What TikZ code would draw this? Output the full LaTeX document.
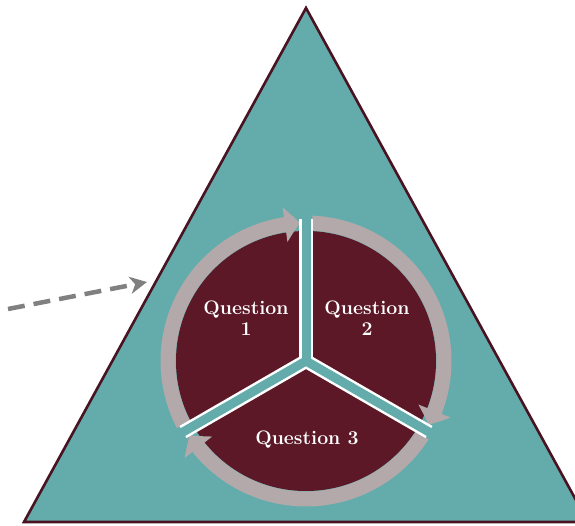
\documentclass[tikz,border=0pt]{standalone}
\usetikzlibrary{arrows.meta,bending}
\definecolor{tealbg}{HTML}{63ACAB}
\definecolor{maroonfill}{HTML}{5C1826}
\definecolor{ringgray}{HTML}{B3A8AA}
\definecolor{edgemaroon}{HTML}{4A1322}
\definecolor{dashgray}{HTML}{808080}
\tikzset{
  ringarrow/.style={draw=ringgray,line width=15pt,-{Triangle[length=15pt,width=34pt,bend]}},
  whiteband/.style={draw=white,line width=14pt},
  tealband/.style={draw=tealbg,line width=9pt},
  qlabel/.style={text=white,font=\fontsize{19.5}{21}\selectfont\bfseries,align=center,inner sep=0pt},
  pointer/.style={draw=dashgray,line width=4.5pt,dash pattern=on 17pt off 9pt,-{Stealth[length=17pt,width=17pt,inset=5pt]}}
}
\begin{document}
\begin{tikzpicture}[x=1pt,y=1pt]
\useasboundingbox (0,0) rectangle (575,525);
\clip (0,0) rectangle (575,525);
% triangle
\coordinate (ttop) at (306,517);
\coordinate (tbl) at (24,3);
\coordinate (tbr) at (588,3);
\draw[fill=tealbg,draw=edgemaroon,line width=2.6pt,line join=miter] (ttop) -- (tbl) -- (tbr) -- cycle;
% disk
\coordinate (c) at (306,164);
\fill[maroonfill] (c) circle[radius=130];
% ring arrows
\draw[ringarrow] (c) ++(207.5:138) arc[start angle=207.5,end angle=92.5,radius=138];
\draw[ringarrow] (c) ++(87.5:138) arc[start angle=87.5,end angle=-27.5,radius=138];
\draw[ringarrow] (c) ++(-32.5:138) arc[start angle=-32.5,end angle=-147.5,radius=138];
% dividers
\draw[whiteband] (c) -- ++(90:142);
\draw[whiteband] (c) -- ++(-30:142);
\draw[whiteband] (c) -- ++(210:142);
\draw[tealband] (c) -- ++(90:150);
\draw[tealband] (c) -- ++(-30:150);
\draw[tealband] (c) -- ++(210:150);
\fill[tealbg] (c) circle[radius=4.5];
% labels
\node[qlabel] (q1) at (246,207) {Question\\1};
\node[qlabel] (q2) at (367,207) {Question\\2};
\node[qlabel] (q3) at (307,85) {Question 3};
% dashed pointer
\coordinate (pstart) at (8,216);
\coordinate (pend) at (147,243);
\draw[pointer] (pstart) -- (pend);
\end{tikzpicture}
\end{document}
